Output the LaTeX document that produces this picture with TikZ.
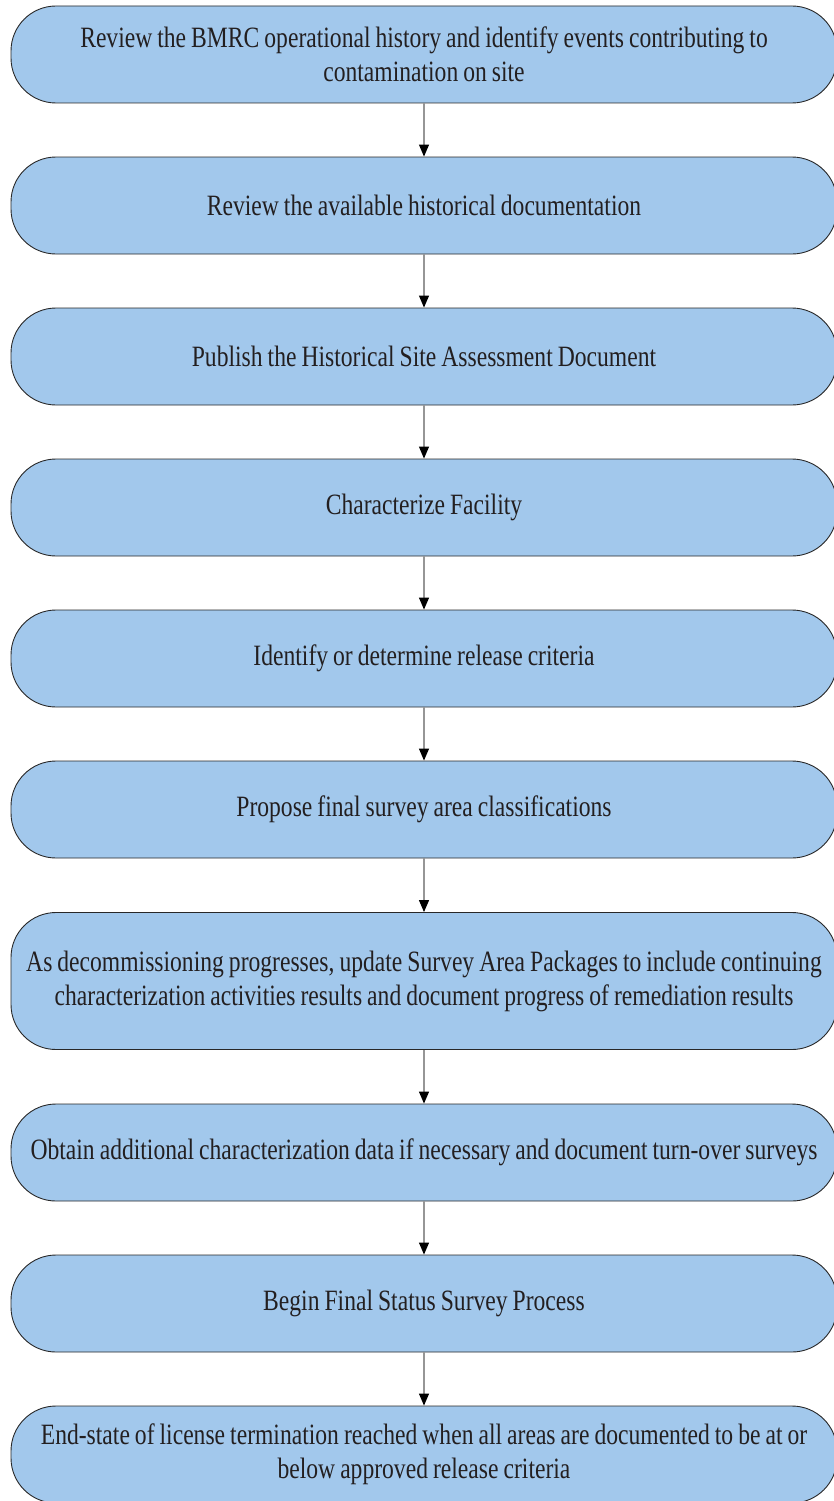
\documentclass[tikz,border=0pt]{standalone}
\usepackage{fontspec}
\setmainfont{Liberation Serif}[FakeStretch=0.80,WordSpace=0.85]
\usetikzlibrary{arrows.meta}
\definecolor{boxfill}{RGB}{162,200,236}
\definecolor{boxline}{RGB}{40,40,40}
\definecolor{txt}{RGB}{35,31,32}
\definecolor{linegray}{RGB}{150,150,150}
\begin{document}
\begin{tikzpicture}[x=1pt,y=-1pt,
  stepbox/.style={draw=boxline,line width=0.9pt,fill=boxfill,rounded corners=45pt,
    minimum width=826pt,minimum height=97pt,inner sep=0pt,align=center,
    text=txt,font=\fontsize{29.5pt}{34pt}\selectfont},
  conn/.style={draw=linegray,line width=1.2pt,-{Triangle[length=12pt,width=10pt,fill=black,color=black]}}]
\useasboundingbox (0,0) rectangle (833,1501);
\node[stepbox] (s1) at (424,54.5) {Review the BMRC operational history and identify events contributing to\\contamination on site};
\node[stepbox] (s2) at (424,205.5) {Review the available historical documentation};
\node[stepbox] (s3) at (424,356.5) {Publish the Historical Site Assessment Document};
\node[stepbox] (s4) at (424,507.5) {Characterize Facility};
\node[stepbox] (s5) at (424,658.5) {Identify or determine release criteria};
\node[stepbox] (s6) at (424,809.5) {Propose final survey area classifications};
\node[stepbox,minimum height=137pt] (s7) at (424,981) {As decommissioning progresses, update Survey Area Packages to include continuing\\characterization activities results and document progress of remediation results};
\node[stepbox] (s8) at (424,1152.5) {Obtain additional characterization data if necessary and document turn-over surveys};
\node[stepbox] (s9) at (424,1303.5) {Begin Final Status Survey Process};
\node[stepbox] (s10) at (424,1454.5) {End-state of license termination reached when all areas are documented to be at or\\below approved release criteria};
\foreach \a/\b in {s1/s2,s2/s3,s3/s4,s4/s5,s5/s6,s6/s7,s7/s8,s8/s9,s9/s10}
  \draw[conn] (\a.south) -- (\b.north);
\end{tikzpicture}
\end{document}
